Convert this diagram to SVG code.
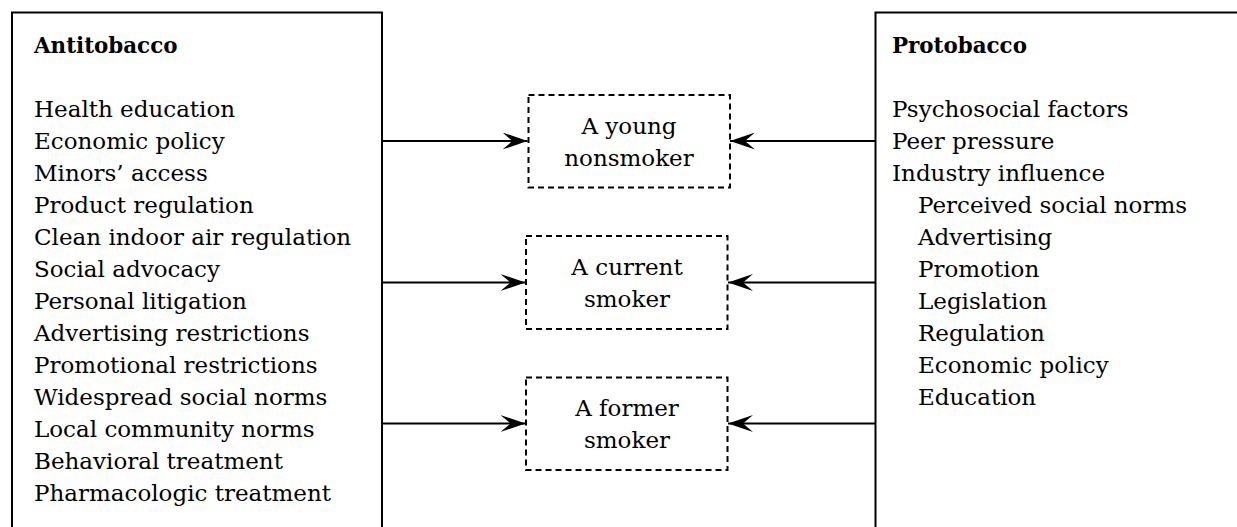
<svg xmlns="http://www.w3.org/2000/svg" width="1237" height="527" viewBox="0 0 1237 527">
<style>
text{font-family:"DejaVu Serif","Liberation Serif",serif;font-size:23px;fill:#000}
.h{font-weight:bold;font-size:21.4px}
.c{text-anchor:middle}
.frame{fill:none;stroke:#000;stroke-width:2}
.dash{fill:#fff;stroke:#000;stroke-width:2;stroke-dasharray:6 4}
.conn{fill:none;stroke:#000;stroke-width:1.8}
</style>
<defs>
<marker id="ah" viewBox="0 0 25 17" refX="25" refY="8.5" markerWidth="25" markerHeight="17" markerUnits="userSpaceOnUse" orient="auto">
<path d="M0,0 L25,8.5 L0,17 L10,8.5 Z" fill="#000"/>
</marker>
</defs>
<g id="connectors">
<line class="conn" x1="382" y1="141" x2="527.5" y2="141" marker-end="url(#ah)"/>
<line class="conn" x1="875.5" y1="141" x2="730" y2="141" marker-end="url(#ah)"/>
<line class="conn" x1="382" y1="282.5" x2="525.5" y2="282.5" marker-end="url(#ah)"/>
<line class="conn" x1="875.5" y1="282.5" x2="728" y2="282.5" marker-end="url(#ah)"/>
<line class="conn" x1="382" y1="423.5" x2="525.5" y2="423.5" marker-end="url(#ah)"/>
<line class="conn" x1="875.5" y1="423.5" x2="728" y2="423.5" marker-end="url(#ah)"/>
</g>
<g id="antitobacco">
<path class="frame" d="M12,540 V12.5 H382 V540"/>
<text class="h" x="34" y="53">Antitobacco</text>
<text x="34" y="117.3">Health education</text>
<text x="34" y="149.3">Economic policy</text>
<text x="34" y="181.3">Minors’ access</text>
<text x="34" y="213.3">Product regulation</text>
<text x="34" y="245.3">Clean indoor air regulation</text>
<text x="34" y="277.3">Social advocacy</text>
<text x="34" y="309.3">Personal litigation</text>
<text x="34" y="341.3">Advertising restrictions</text>
<text x="34" y="373.3">Promotional restrictions</text>
<text x="34" y="405.3">Widespread social norms</text>
<text x="34" y="437.3">Local community norms</text>
<text x="34" y="469.3">Behavioral treatment</text>
<text x="34" y="501.3">Pharmacologic treatment</text>
</g>
<g id="protobacco">
<path class="frame" d="M875.5,540 V12.5 H1250"/>
<text class="h" x="892" y="53">Protobacco</text>
<text x="892" y="116.7">Psychosocial factors</text>
<text x="892" y="148.7">Peer pressure</text>
<text x="892" y="180.7">Industry influence</text>
<text x="918" y="212.7">Perceived social norms</text>
<text x="918" y="244.7">Advertising</text>
<text x="918" y="276.7">Promotion</text>
<text x="918" y="308.7">Legislation</text>
<text x="918" y="340.7">Regulation</text>
<text x="918" y="372.7">Economic policy</text>
<text x="918" y="404.7">Education</text>
</g>
<g id="young-nonsmoker">
<rect class="dash" x="528.5" y="95" width="201.5" height="92.5"/>
<text class="c" x="629" y="134">A young</text>
<text class="c" x="629" y="166">nonsmoker</text>
</g>
<g id="current-smoker">
<rect class="dash" x="526" y="236" width="201.5" height="93"/>
<text class="c" x="627" y="275">A current</text>
<text class="c" x="627" y="306.5">smoker</text>
</g>
<g id="former-smoker">
<rect class="dash" x="526" y="377.5" width="201.5" height="92.5"/>
<text class="c" x="627" y="416">A former</text>
<text class="c" x="627" y="448">smoker</text>
</g>
</svg>
